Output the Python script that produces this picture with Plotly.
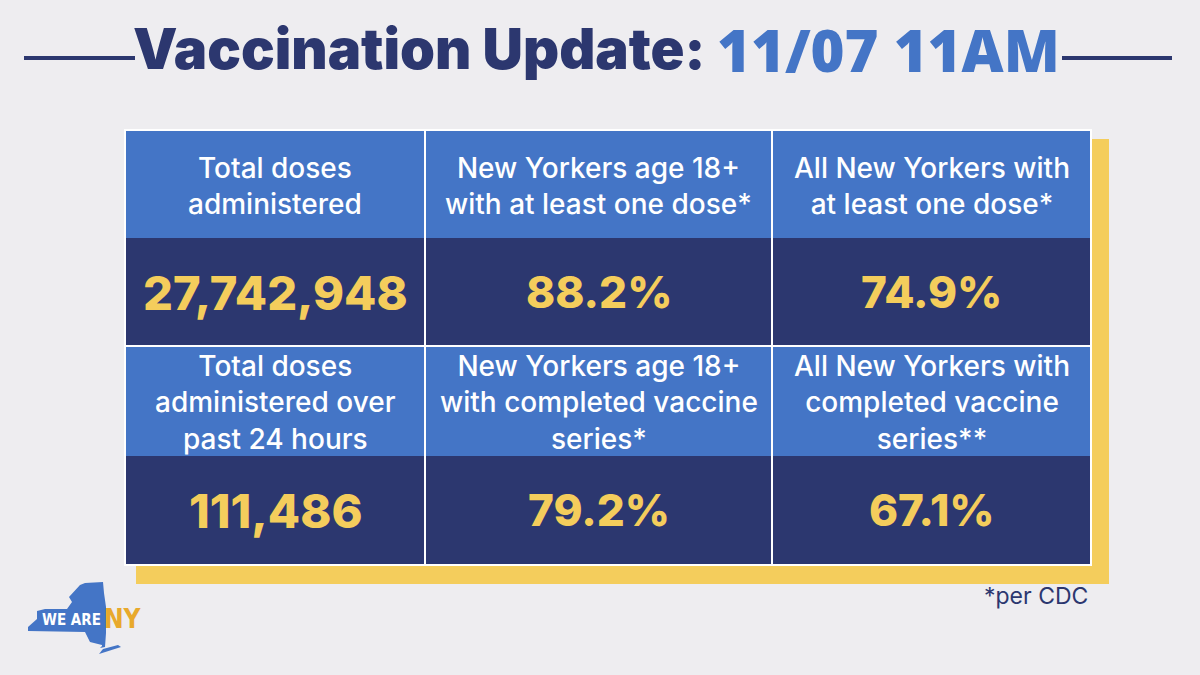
import plotly.graph_objects as go

# cell texts, left to right, top to bottom
top_labels = ["Total doses<br>administered",
              "New Yorkers age 18+<br>with at least one dose*",
              "All New Yorkers with<br>at least one dose*"]
top_values = ["27,742,948", "88.2%", "74.9%"]
bottom_labels = ["Total doses<br>administered over<br>past 24 hours",
                 "New Yorkers age 18+<br>with completed vaccine<br>series*",
                 "All New Yorkers with<br>completed vaccine<br>series**"]
bottom_values = ["111,486", "79.2%", "67.1%"]

NAVY = "#2c376f"
BLUE = "#4475c6"
YELLOW = "#f4cd5c"
BG = "#eeedf0"
WHITE = "#ffffff"
FONT = "Inter"
CONDENSED = "DejaVu Sans Condensed, Roboto, sans-serif"

col_edges = [126, 425, 772, 1090]
row_edges = [131, 238, 346, 456, 564]

fig = go.Figure()


def rect(x0, y0, x1, y1, color):
    fig.add_shape(type="rect", x0=x0, y0=y0, x1=x1, y1=y1,
                  fillcolor=color, line_width=0, layer="below")


def label(x, y, text, size, color, weight=400, family=FONT):
    fig.add_annotation(x=x, y=y, text=text, showarrow=False, xanchor="center",
                       yanchor="middle", align="center",
                       font=dict(family=family, size=size, color=color, weight=weight))


# shadow and white frame behind the table
rect(136, 139, 1109, 584, YELLOW)
rect(124, 129, 1092, 566, WHITE)

rows = [(top_labels, top_values, 0), (bottom_labels, bottom_values, 2)]
for labels, values, r in rows:
    for c in range(3):
        x0 = col_edges[c] + (1 if c else 0)
        x1 = col_edges[c + 1] - (1 if c < 2 else 0)
        y0 = row_edges[r] + (1 if r else 0)
        rect(x0, y0, x1, row_edges[r + 1], BLUE)
        rect(x0, row_edges[r + 1], x1, row_edges[r + 2] - (1 if r == 0 else 0), NAVY)
        xc = (x0 + x1) / 2
        label(xc, (row_edges[r] + row_edges[r + 1]) / 2 + 1, labels[c], 28, WHITE, 500)
        # percent sign runs wide in this font
        size = 44 if "%" in values[c] else 47
        label(xc, (row_edges[r + 1] + row_edges[r + 2]) / 2, values[c], size, YELLOW, 800)

# title with rules either side
label(419, 49, "Vaccination Update:", 56, NAVY, 900)
label(888, 49, "11/07 11AM", 58, BLUE, 800, "Open Sans")
fig.add_shape(type="line", x0=24, x1=135, y0=58, y1=58, line=dict(color=NAVY, width=4))
fig.add_shape(type="line", x0=1062, x1=1172, y0=58, y1=58, line=dict(color=NAVY, width=4))

label(1036, 596, "*per CDC", 23, NAVY)

# We Are NY logo
state = ("M 28 631 L 28 627 L 37 619 L 37 611 L 45 609 L 67 609 L 72 602 L 69 597 "
         "L 80 585 L 85 583 L 103 582 L 104 593 L 106 607 L 106 633 L 105 647 "
         "L 100 648 L 102 646 L 102 645 L 90 642 L 85 632 Z")
island = "M 99 654 L 121 647 L 118 645 L 103 649 Z"
fig.add_shape(type="path", path=state, fillcolor=BLUE, line_width=0)
fig.add_shape(type="path", path=island, fillcolor=BLUE, line_width=0)
label(71, 620, "WE ARE", 15, WHITE, 700, CONDENSED)
label(123, 619, "NY", 26, "#e8a92c", 700, CONDENSED)

fig.update_xaxes(range=[0, 1200], visible=False, fixedrange=True)
fig.update_yaxes(range=[675, 0], visible=False, fixedrange=True)
fig.update_layout(width=1200, height=675, margin=dict(l=0, r=0, t=0, b=0),
                  paper_bgcolor=BG, plot_bgcolor=BG, showlegend=False)

# page has a default body margin that would shift the picture
fig.write_html("out.html", config=dict(displayModeBar=False),
               post_script="document.body.style.margin='0';document.body.style.background='#eeedf0';")
